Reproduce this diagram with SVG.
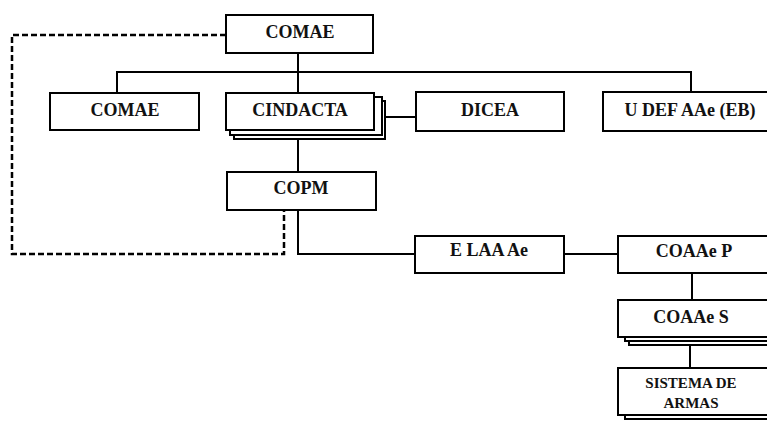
<svg xmlns="http://www.w3.org/2000/svg" width="767" height="421" viewBox="0 0 767 421">
<style>
.b{fill:#fff;stroke:#000;stroke-width:2}
.c{fill:none;stroke:#000;stroke-width:2}
.d{fill:none;stroke:#000;stroke-width:2.5;stroke-dasharray:6 3}
text{font-family:"Liberation Serif","Times New Roman",serif;font-weight:bold;font-size:18px;text-anchor:middle;fill:#111}
.s{font-size:15px}
</style>
<rect width="767" height="421" fill="#fff"/>
<g id="connectors">
<path class="d" d="M226,35 H12 V254 H284 V210"/>
<path class="c" d="M298,53 V93 M117,93 V72 H691 V92"/>
<path class="c" d="M298,130 V172"/>
<path class="c" d="M374,117 H416"/>
<path class="c" d="M298,210 V254 H415"/>
<path class="c" d="M564,254 H618"/>
<path class="c" d="M692,273 V300"/>
<path class="c" d="M690,337 V368"/>
</g>
<g id="comae-top"><rect class="b" x="226" y="15" width="147" height="38"/><text x="300" y="38">COMAE</text></g>
<g id="comae"><rect class="b" x="50" y="93" width="149" height="37"/><text x="125" y="116">COMAE</text></g>
<g id="cindacta">
<rect class="b" x="234" y="101" width="151" height="38"/>
<rect class="b" x="230" y="97" width="152" height="38"/>
<rect class="b" x="226" y="93" width="148" height="37"/>
<text x="300" y="116">CINDACTA</text>
</g>
<g id="dicea"><rect class="b" x="416" y="92" width="148" height="39"/><text x="490" y="116">DICEA</text></g>
<g id="udef"><rect class="b" x="603" y="92" width="175" height="39"/><text x="690" y="116">U DEF AAe (EB)</text></g>
<g id="copm"><rect class="b" x="227" y="172" width="149" height="38"/><text x="301" y="194">COPM</text></g>
<g id="elaa"><rect class="b" x="415" y="236" width="149" height="37"/><text x="489" y="256">E LAA Ae</text></g>
<g id="coaaep"><rect class="b" x="618" y="236" width="155" height="37"/><text x="694" y="257">COAAe P</text></g>
<g id="coaaes">
<rect class="b" x="629" y="308" width="150" height="37"/>
<rect class="b" x="625" y="304" width="150" height="37"/>
<rect class="b" x="618" y="300" width="152" height="37"/>
<text x="691" y="323">COAAe S</text>
</g>
<g id="sistema">
<rect class="b" x="625" y="371" width="150" height="48"/>
<rect class="b" x="618" y="368" width="152" height="47"/>
<text class="s" x="691" y="388">SISTEMA DE</text>
<text class="s" x="691" y="408">ARMAS</text>
</g>
</svg>
